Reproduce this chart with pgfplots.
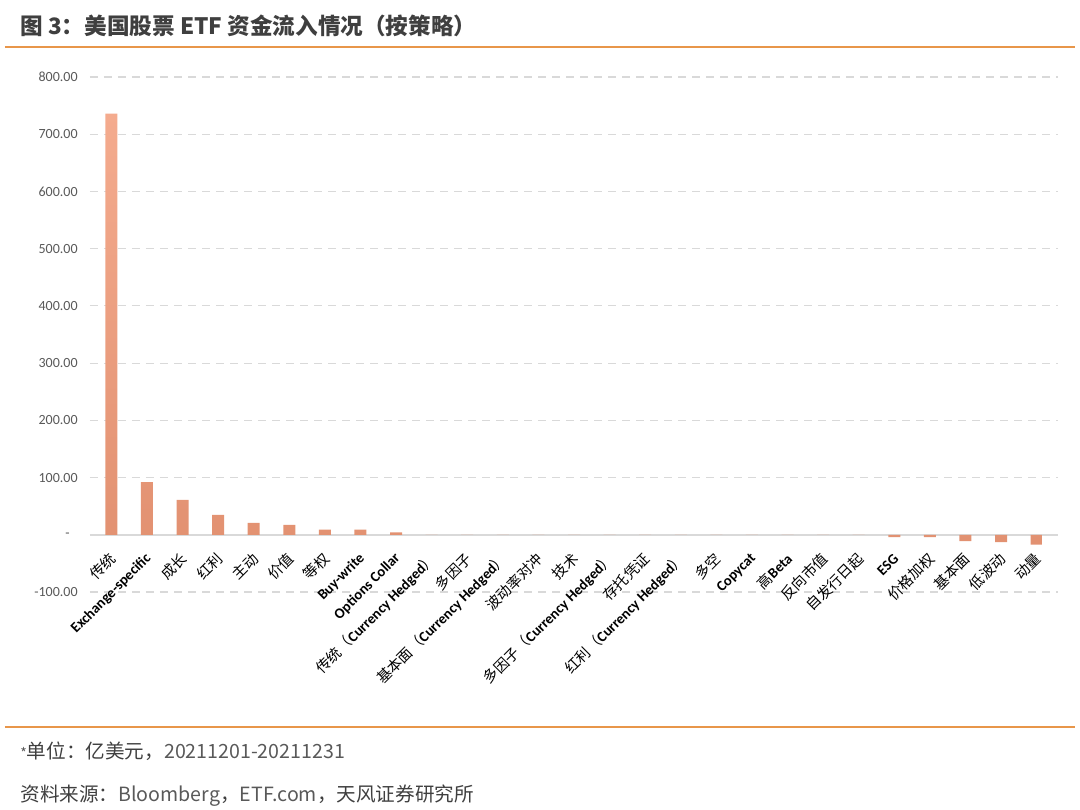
\documentclass[border=0pt]{standalone}
\usepackage{fontspec}
\setmainfont{Carlito}
\newfontfamily\cjk{Noto Sans CJK SC}
\usepackage{pgfplots}
\pgfplotsset{compat=1.18}
\usetikzlibrary{calc}
\definecolor{barTop}{HTML}{F4AB8E}
\definecolor{barBot}{HTML}{E29171}
\definecolor{rulec}{HTML}{E8964A}
\definecolor{gridc}{HTML}{D9D9D9}
\definecolor{txt}{HTML}{595959}
\definecolor{titlec}{HTML}{3F3F3F}
\newcommand\zh[1]{{\cjk\mdseries #1}}

\begin{document}
\begin{tikzpicture}
\begin{axis}[
    scale only axis, width=484pt, height=257.5pt,
    xmin=-0.6, xmax=26.6, ymin=-100, ymax=800,
    ybar, bar width=6pt,
    axis line style={draw=none},
    major tick length=0pt,
    ymajorgrids,
    major grid style={gridc, line width=0.6pt, dash pattern=on 4pt off 3pt},
    ytick={-100,100,200,300,400,500,600,700,800},
    yticklabels={-100.00,100.00,200.00,300.00,400.00,500.00,600.00,700.00,800.00},
    extra y ticks={0},
    extra y tick labels={-},
    extra y tick style={
        major grid style={gridc, line width=1pt, solid},
        yticklabel style={xshift=-4pt}},
    yticklabel style={font=\fontsize{7}{8}\selectfont, text=txt, inner sep=0pt, xshift=-6pt},
    xtick=data,
    xticklabels={\zh{传统}, Exchange-specific, \zh{成长}, \zh{红利}, \zh{主动}, \zh{价值}, \zh{等权},
        Buy-write, Options Collar, \zh{传统（}Currency Hedged\zh{）}, \zh{多因子},
        \zh{基本面（}Currency Hedged\zh{）}, \zh{波动率对冲}, \zh{技术},
        \zh{多因子（}Currency Hedged\zh{）}, \zh{存托凭证}, \zh{红利（}Currency Hedged\zh{）},
        \zh{多空}, Copycat, \zh{高}Beta, \zh{反向市值}, \zh{自发行日起}, ESG,
        \zh{价格加权}, \zh{基本面}, \zh{低波动}, \zh{动量}},
    xticklabel style={yshift=18pt, xshift=1pt, rotate=45, anchor=east, inner sep=0pt,
        font=\fontsize{7.3}{8}\selectfont\bfseries, text=black},
]
\addplot[draw=none, top color=barTop, bottom color=barBot] coordinates {
    (0,736) (1,92) (2,61) (3,35) (4,21) (5,17.5) (6,9) (7,9) (8,4)
    (9,0) (10,0) (11,0) (12,0) (13,0) (14,0) (15,0) (16,0)
    (17,0) (18,0) (19,0) (20,0) (21,0)
    (22,-4) (23,-4) (24,-11) (25,-13) (26,-17)
};
\coordinate (bl) at (rel axis cs:0,0);
\end{axis}
\begin{scope}[shift={($(bl)+(-45pt,-108.5pt)$)}, x=1pt, y=1pt]
\node[anchor=west, inner sep=0pt, text=titlec] at (10,391.5)
  {\fontsize{11.3}{13}\selectfont\cjk\bfseries 图 3：美国股票 ETF 资金流入情况（按策略）};
\draw[rulec, line width=1pt] (2.5,381) -- (537.5,381);
\draw[rulec, line width=1pt] (2.5,41) -- (537.5,41);
\node[anchor=west, inner sep=0pt, text=titlec] at (10,29)
  {\fontsize{9.8}{11}\selectfont\cjk {\color{txt}\fontsize{7}{8}\selectfont *}单位：亿美元，\color{txt}20211201-20211231};
\node[anchor=west, inner sep=0pt, text=titlec] at (10,6.5)
  {\fontsize{9.8}{11}\selectfont\cjk 资料来源：{\color{txt}Bloomberg}，{\color{txt}ETF.com}，天风证券研究所};
\pgfresetboundingbox
\path[use as bounding box] (0,0) rectangle (540,404.5);
\end{scope}
\end{tikzpicture}
\end{document}
